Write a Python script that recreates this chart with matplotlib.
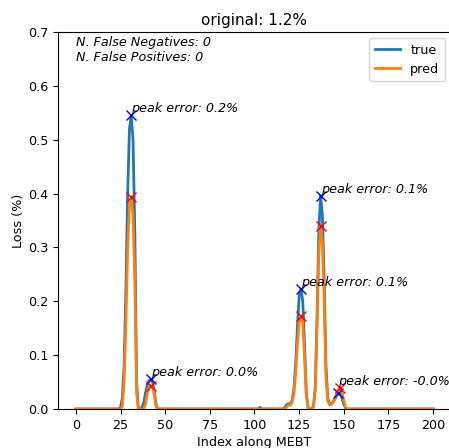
import matplotlib
matplotlib.use("Agg")
import matplotlib.pyplot as plt

# sparse loss profiles along the MEBT (zeros elsewhere)
idx_true = [0, 24, 25, 26, 27, 28, 29, 30, 31, 32, 33, 34, 35, 36, 37, 38, 39, 40, 41, 42, 43, 44, 45, 46,
            102, 103, 104,
            116, 117, 118, 119, 120, 121, 122, 123, 124, 125, 126, 127, 128, 129, 130, 131, 132, 133, 134,
            135, 136, 137, 138, 139, 140, 141, 142, 143, 144, 145, 146, 147, 148, 149, 150, 151, 152, 200]
loss_true = [0, 0, 0.003, 0.02, 0.08, 0.22, 0.40, 0.52, 0.545, 0.50, 0.33, 0.05, 0, 0, 0.003, 0.012, 0.03,
             0.045, 0.053, 0.055, 0.05, 0.03, 0.006, 0,
             0, 0.003, 0,
             0, 0.003, 0.008, 0.01, 0.009, 0.015, 0.035, 0.08, 0.15, 0.21, 0.223, 0.2, 0.12, 0.03, 0.003, 0,
             0, 0.005, 0.04, 0.17, 0.33, 0.396, 0.36, 0.24, 0.08, 0.02, 0.01, 0.01, 0.013, 0.018, 0.025,
             0.029, 0.028, 0.02, 0.008, 0.002, 0, 0]

idx_pred = [0, 25, 26, 27, 28, 29, 30, 31, 32, 33, 34, 35, 38, 39, 40, 41, 42, 43, 44, 45, 46,
            117, 118, 119, 120, 121, 122, 123, 124, 125, 126, 127, 128, 129, 130, 131, 132, 133, 134, 135,
            136, 137, 138, 139, 140, 141, 142, 143, 144, 145, 146, 147, 148, 149, 150, 151, 152, 200]
loss_pred = [0, 0, 0.005, 0.05, 0.16, 0.30, 0.38, 0.393, 0.36, 0.24, 0.03, 0, 0, 0.01, 0.03, 0.041, 0.043,
             0.04, 0.025, 0.004, 0,
             0, 0.004, 0.008, 0.007, 0.012, 0.028, 0.065, 0.12, 0.16, 0.172, 0.16, 0.1, 0.025, 0.002, 0, 0,
             0.004, 0.035, 0.15, 0.29, 0.34, 0.31, 0.2, 0.06, 0.015, 0.008, 0.009, 0.013, 0.02, 0.03, 0.037,
             0.039, 0.032, 0.015, 0.003, 0, 0]

# detected peaks
peak_x_true = [31, 42, 126, 137, 147]
peak_y_true = [0.545, 0.055, 0.223, 0.396, 0.029]
peak_x_pred = [31, 42, 126, 137, 148]
peak_y_pred = [0.393, 0.043, 0.172, 0.340, 0.039]

title = "original: 1.2%"
n_false_neg = 0
n_false_pos = 0

fs = 9.2

fig = plt.figure(figsize=(4.49, 4.48), dpi=100)
ax = fig.add_axes([58 / 449, 1 - 409 / 448, 393 / 449, 377 / 448])

ax.plot(idx_true, loss_true, color="#1f77b4", lw=2, label="true")
ax.plot(idx_pred, loss_pred, color="#ff7f0e", lw=2, label="pred")
ax.plot(peak_x_true, peak_y_true, "x", color="blue", ms=6.5)
ax.plot(peak_x_pred, peak_y_pred, "x", color="red", ms=6.5)

for xt, yt, yp in zip(peak_x_true, peak_y_true, peak_y_pred):
    ax.text(xt, max(yt, yp), "peak error: %.1f%%" % (yt - yp), style="italic",
            fontsize=fs, va="bottom", ha="left")

ax.text(0.046, 0.99, "N. False Negatives: %d\nN. False Positives: %d" % (n_false_neg, n_false_pos),
        transform=ax.transAxes, style="italic", fontsize=fs, va="top", ha="left")

ax.set_xlim(-10, 210)
ax.set_ylim(0, 0.7)
ax.set_xticks(range(0, 201, 25))
ax.tick_params(labelsize=fs)
ax.set_xlabel("Index along MEBT", fontsize=fs, labelpad=3)
ax.set_ylabel("Loss (%)", fontsize=fs, labelpad=2)
ax.set_title(title, fontsize=11, pad=5)
ax.legend(loc="upper right", fontsize=fs)

fig.savefig("out.png", dpi=100)
